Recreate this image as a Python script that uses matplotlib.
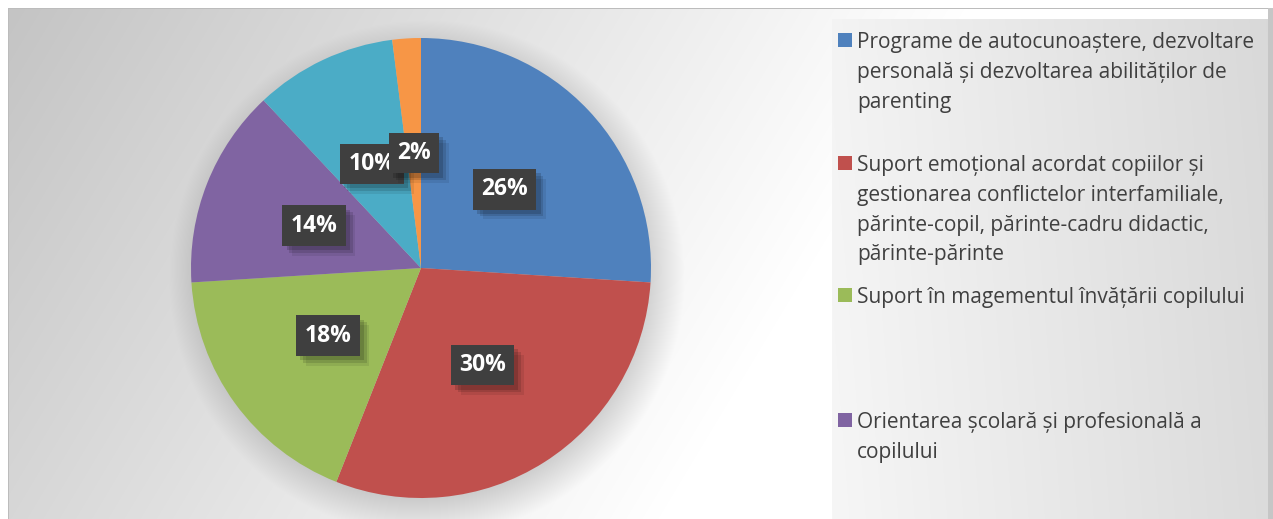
import numpy as np
import matplotlib.pyplot as plt
import matplotlib.patheffects as pe

# ---------------- data ----------------
categories = [
    "Programe de autocunoaștere, dezvoltare\npersonală și dezvoltarea abilităților de\nparenting",
    "Suport emoțional acordat copiilor și\ngestionarea conflictelor interfamiliale,\npărinte-copil, părinte-cadru didactic,\npărinte-părinte",
    "Suport în magementul învățării copilului",
    "Orientarea școlară și profesională a\ncopilului",
    "Altele 1",
    "Altele 2",
]
values = [26, 30, 18, 14, 10, 2]
pct_labels = ["26%", "30%", "18%", "14%", "10%", "2%"]
colors = ["#4f81bd", "#c0504d", "#9bbb59", "#8064a2", "#4bacc6", "#f79646"]
legend_shown = 4

# ---------------- figure ----------------
W, H = 1273, 519
fig = plt.figure(figsize=(W / 100, H / 100), dpi=100)

bg = fig.add_axes([0, 0, 1, 1])
bg.set_xlim(0, W)
bg.set_ylim(H, 0)
bg.axis("off")

yy, xx = np.mgrid[0:H, 0:W] + 0.5
t = np.clip((xx + 0.6 * yy) / 970.0, 0, 1)
val = 0.765 + 0.235 * t

# pie soft shadow
cx, cy, R = 421, 268, 230
d = np.hypot(xx - (cx + 6), yy - (cy + 10))
sh = 0.16 * np.clip((R + 28 - d) / 40.0, 0, 1)
val = val * (1 - sh)

# legend panel
leg = (xx >= 832) & (yy >= 19)
lv = 0.955 - 0.105 * np.clip((xx - 832) / 436.0, 0, 1) + 0.01 * (yy / H)
val = np.where(leg, lv, val)

# frame
val = np.where(yy < 8, 1.0, val)
val = np.where((yy >= 8) & (yy < 9.5), 0.74, val)
val = np.where(xx < 8, 1.0, val)
val = np.where((xx >= 8) & (xx < 9.5) & (yy >= 8), 0.74, val)
val = np.where((xx >= 1268) & (yy >= 8), 0.78, val)

rgb = np.dstack([val, val, val])
bg.imshow(rgb, extent=(0, W, H, 0), interpolation="nearest", aspect="auto")

# ---------------- pie ----------------
ax = fig.add_axes([(cx - R) / W, (H - cy - R) / H, 2 * R / W, 2 * R / H])
ax.pie(values, colors=colors, startangle=90, counterclock=False, radius=1,
       wedgeprops=dict(linewidth=0))
ax.set_xlim(-1, 1)
ax.set_ylim(-1, 1)
ax.set_aspect("equal")
ax.axis("off")

total = float(sum(values))
cum = np.cumsum(values) - np.array(values) / 2.0
mid = np.deg2rad(90 - 360 * cum / total)
fs = 16.5
for lab, a in zip(pct_labels, mid):
    x, y = 0.5 * np.cos(a), 0.5 * np.sin(a)
    txt = ax.text(x, y, lab, ha="center", va="center", fontsize=fs, fontweight="bold",
                  family="Open Sans", color="white",
                  bbox=dict(boxstyle="square,pad=0.36", facecolor="#3f3f3f",
                            linewidth=0))
    txt.get_bbox_patch().set_path_effects([
        pe.SimplePatchShadow(offset=(7, -7), shadow_rgbFace="black", alpha=0.08),
        pe.SimplePatchShadow(offset=(5, -5), shadow_rgbFace="black", alpha=0.12),
        pe.SimplePatchShadow(offset=(3, -3), shadow_rgbFace="black", alpha=0.15),
        pe.Normal(),
    ])

# ---------------- legend ----------------
first_line_y = [40, 163, 295, 420]
pitch = 29.8
for i in range(legend_shown):
    y0 = first_line_y[i]
    bg.add_patch(plt.Rectangle((838, y0 - 7), 14, 14, facecolor=colors[i], linewidth=0))
    for j, line in enumerate(categories[i].split("\n")):
        bg.text(857, y0 + j * pitch, line, ha="left", va="center_baseline",
                fontsize=15, family="Open Sans", color="#404040")

fig.savefig("out.png", dpi=100)
